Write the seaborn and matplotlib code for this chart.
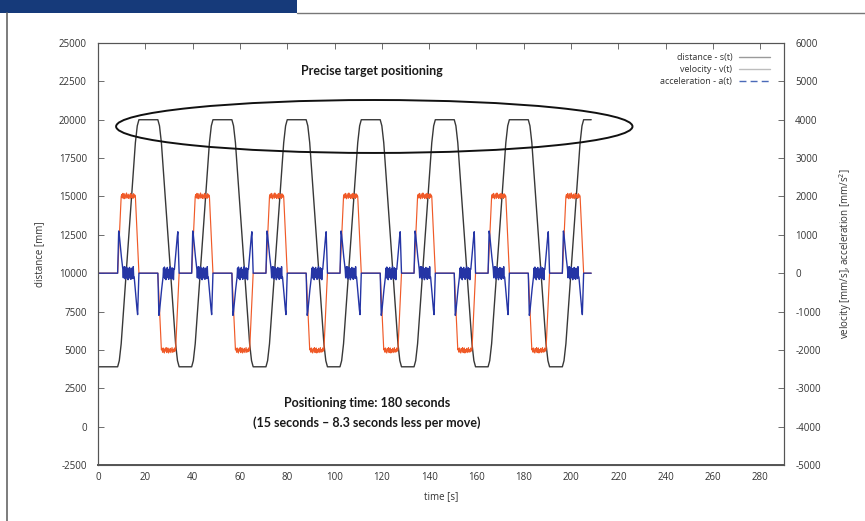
import matplotlib
matplotlib.use("Agg")
import matplotlib.pyplot as plt
from matplotlib.patches import Ellipse, Rectangle
from matplotlib.lines import Line2D
import pandas as pd
import seaborn as sns

# ---------------- data ----------------
# start time [s] of each up/down positioning cycle
cycle_start = [8.3, 39.6, 71.0, 102.3, 133.6, 164.9, 196.3]
t_end = 208.5

# distance s(t) [mm], vertices of one cycle (time relative to cycle start)
dist_rel_t = [0.0, 0.7, 1.5, 7.5, 8.3, 9.0, 17.0, 17.7, 18.5, 24.5, 25.3, 26.0]
dist_rel_v = [3900, 4300, 5400, 18500, 19600, 20000, 20000, 19600, 18500, 5400, 4300, 3900]
dist_rest = 3900

# velocity v(t) [mm/s]
vel_rel_t = [0.0, 1.5, 1.75, 2.0, 2.25, 2.5, 2.75, 3.0, 3.25, 3.5, 3.75, 4.0, 4.25, 4.5,
             4.75, 5.0, 5.25, 5.5, 5.75, 6.0, 6.25, 6.5, 6.75, 7.0, 7.25, 7.5, 9.0,
             17.0, 18.5, 18.75, 19.0, 19.25, 19.5, 19.75, 20.0, 20.25, 20.5, 20.75,
             21.0, 21.25, 21.5, 21.75, 22.0, 22.25, 22.5, 22.75, 23.0, 23.25, 23.5,
             23.75, 24.0, 24.25, 24.5, 26.0]
vel_rel_v = [0, 2000, 2050, 1960, 2080, 1990, 1940, 2070, 2010, 1950, 2090, 1980, 2040,
             1950, 2060, 2000, 1940, 2080, 1970, 2050, 1990, 1950, 2070, 1980, 2040, 2000, 0,
             0, -2000, -1960, -2060, -1950, -2040, -2080, -1970, -2030, -1940, -2070,
             -2000, -1950, -2080, -1990, -2050, -1960, -2070, -2010, -1940, -2060,
             -1990, -2050, -1950, -2030, -2000, 0]
vel_rest = 0

# acceleration a(t) [mm/s^2]
acc_rel_t = [0.0, 0.2, 0.45, 0.7, 1.0, 1.3, 1.6, 1.9, 2.2,
             2.4, 2.6, 2.8, 3.0, 3.2, 3.4, 3.6, 3.8, 4.0, 4.2, 4.4, 4.6, 4.8, 5.0,
             5.2, 5.4, 5.6, 5.8, 6.0, 6.2, 6.4, 6.6, 6.8,
             7.0, 7.3, 7.6, 7.9, 8.2, 8.45, 8.65, 8.85, 9.0,
             17.0, 17.2, 17.45, 17.7, 18.0, 18.3, 18.6, 18.9, 19.2,
             19.4, 19.6, 19.8, 20.0, 20.2, 20.4, 20.6, 20.8, 21.0, 21.2, 21.4, 21.6, 21.8,
             22.0, 22.2, 22.4, 22.6, 22.8, 23.0, 23.2, 23.4, 23.6, 23.8,
             24.0, 24.3, 24.6, 24.9, 25.2, 25.45, 25.65, 25.85, 26.0]
acc_rel_v = [0, 500, 1100, 1000, 800, 600, 420, 250, 100,
             -120, 160, -60, 170, -150, 90, -130, 160, -40, 120, -170, 100, -90, 150,
             -130, 60, -160, 130, -70, 110, -140, 170, -100,
             -100, -300, -520, -750, -950, -1080, -700, -250, 0,
             0, -500, -1100, -1000, -800, -600, -420, -250, -100,
             130, -110, 160, -140, 70, -170, 120, -50, 150, -120, 90, -160, 110,
             -80, 170, -130, 60, -150, 140, -90, 120, -170, 100,
             100, 300, 520, 750, 950, 1080, 700, 250, 0]
acc_rest = 0

tick_x = list(range(0, 281, 20))
tick_left = list(range(-2500, 25001, 2500))
tick_right = list(range(-5000, 6001, 1000))


def build(rel_t, rel_v, rest):
    ts, vs = [0.0], [rest]
    for s in cycle_start:
        for r, v in zip(rel_t, rel_v):
            if s + r <= t_end:
                ts.append(s + r)
                vs.append(v)
    ts.append(t_end)
    vs.append(vs[-1])
    return pd.DataFrame({"t": ts, "v": vs})


df_dist = build(dist_rel_t, dist_rel_v, dist_rest)
df_vel = build(vel_rel_t, vel_rel_v, vel_rest)
df_acc = build(acc_rel_t, acc_rel_v, acc_rest)

# ---------------- figure ----------------
sns.set_style("white")
plt.rcParams["font.family"] = ["Open Sans", "DejaVu Sans"]
plt.rcParams["axes.unicode_minus"] = False

fig = plt.figure(figsize=(8.65, 5.21), dpi=100)
ax = fig.add_axes([98 / 865, 1 - 465 / 521, (784 - 98) / 865, (465 - 43) / 521])

C_DIST = "#383838"
C_VEL = "#f05a28"
C_ACC = "#2535a5"

sns.lineplot(data=df_dist, x="t", y="v", ax=ax, color=C_DIST, linewidth=1.0,
             estimator=None, sort=False, legend=False)
ax.set_xlim(0, 290)
ax.set_ylim(-2500, 25000)
ax.set_xticks(tick_x)
ax.set_yticks(tick_left)
ax.set_xlabel("time [s]", fontsize=7, color="#333333", labelpad=6)
ax.set_ylabel("distance [mm]", fontsize=7, color="#333333", labelpad=10)

ax2 = ax.twinx()
sns.lineplot(data=df_vel, x="t", y="v", ax=ax2, color=C_VEL, linewidth=0.85,
             estimator=None, sort=False, legend=False)
sns.lineplot(data=df_acc, x="t", y="v", ax=ax2, color=C_ACC, linewidth=1.0,
             estimator=None, sort=False, legend=False)
ax2.set_xlim(0, 290)
ax2.set_ylim(-5000, 6000)
ax2.set_yticks(tick_right)
ax2.set_xlabel("")
ax2.set_ylabel("velocity [mm/s], acceleration [mm/s$^2$]", fontsize=7,
               color="#333333", labelpad=12)

for a in (ax, ax2):
    for sp in a.spines.values():
        sp.set_color("#555555")
        sp.set_linewidth(0.8)
ax.spines["bottom"].set_linewidth(1.4)

ax.tick_params(axis="x", direction="in", length=4, width=0.6, color="#555555",
               labelsize=7, labelcolor="#333333", top=True, pad=5)
ax.tick_params(axis="y", direction="in", length=4, width=0.6, color="#555555",
               labelsize=7, labelcolor="#333333", pad=8)
ax2.tick_params(axis="y", direction="in", length=4, width=0.6, color="#555555",
                labelsize=7, labelcolor="#333333", pad=8)

# ellipse highlighting target positions
ell = Ellipse((116.8, 19560), width=218.3, height=3450, angle=0,
              fill=False, edgecolor="#111111", linewidth=1.4, zorder=5)
ax.add_patch(ell)

txt_kw = dict(ha="center", va="center", fontsize=9, fontweight="bold",
              color="#1a1a1a", family=["Lato", "DejaVu Sans"])
ax.text(115.9, 23175, "Precise target positioning", **txt_kw)
ax.text(113.8, 1540, "Positioning time: 180 seconds", **txt_kw)
ax.text(113.8, 235, "(15 seconds \u2013 8.3 seconds less per move)", **txt_kw)

handles = [Line2D([], [], color="#9a9a9a", lw=1.0),
           Line2D([], [], color="#bdbdbd", lw=1.0),
           Line2D([], [], color="#4a6ab8", lw=1.0, linestyle=(0, (5, 3)))]
labels = ["distance - s(t)", "velocity - v(t)", "acceleration - a(t)"]
leg = ax2.legend(handles, labels, loc="upper right", bbox_to_anchor=(0.985, 0.985),
                 markerfirst=False, frameon=False, fontsize=6.5, handlelength=3.4,
                 handletextpad=0.8, labelspacing=0.35, borderaxespad=0.0)
for t in leg.get_texts():
    t.set_color("#333333")

# scanned page frame decorations
fig.patches.append(Rectangle((0, 1 - 13 / 521), 297 / 865, 13 / 521,
                             transform=fig.transFigure, facecolor="#163a7a",
                             edgecolor="none"))
fig.lines.append(Line2D([297 / 865, 1], [1 - 13 / 521, 1 - 13 / 521],
                        transform=fig.transFigure, color="#777777", lw=1.0))
fig.lines.append(Line2D([7.5 / 865, 7.5 / 865], [0, 1 - 13 / 521],
                        transform=fig.transFigure, color="#666666", lw=1.2))

fig.savefig("out.png", dpi=100)
